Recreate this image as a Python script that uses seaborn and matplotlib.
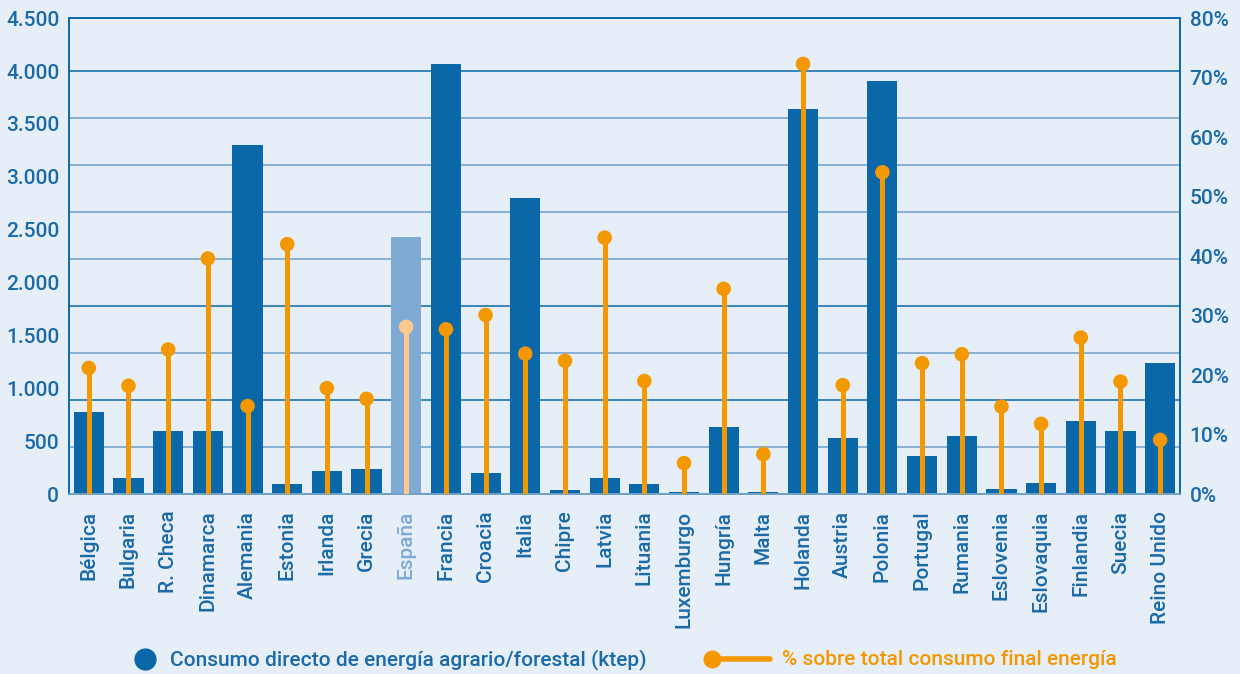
import numpy as np
import pandas as pd
import seaborn as sns
import matplotlib.pyplot as plt
from matplotlib.lines import Line2D

# --- Datos ---
paises = ["Bélgica", "Bulgaria", "R. Checa", "Dinamarca", "Alemania", "Estonia",
          "Irlanda", "Grecia", "España", "Francia", "Croacia", "Italia", "Chipre",
          "Latvia", "Lituania", "Luxemburgo", "Hungría", "Malta", "Holanda",
          "Austria", "Polonia", "Portugal", "Rumania", "Eslovenia", "Eslovaquia",
          "Finlandia", "Suecia", "Reino Unido"]
consumo_ktep = [780, 155, 600, 600, 3300, 95, 218, 236, 2430, 4065, 198, 2800, 38,
                151, 95, 18, 633, 18, 3640, 529, 3904, 359, 548, 47, 104, 690, 596, 1240]
pct_consumo = [21.2, 18.2, 24.3, 39.6, 14.8, 42.0, 17.8, 16.0, 28.1, 27.7, 30.1, 23.6,
               22.4, 43.1, 19.0, 5.2, 34.5, 6.7, 72.3, 18.3, 54.1, 22.0, 23.5, 14.7,
               11.8, 26.3, 18.9, 9.1]
destacado = "España"

ticks_ktep = list(range(0, 4501, 500))
ticks_pct = [0, 10, 20, 30, 40, 50, 60, 70, 80]
label_barras = "Consumo directo de energía agrario/forestal (ktep)"
label_pct = "% sobre total consumo final energía"

# --- Estilo ---
FONDO = "#e6eef8"
AZUL = "#0a68a8"
AZUL_TXT = "#1b6aa7"
AZUL_CLARO = "#7faad3"
NARANJA = "#f39800"
NARANJA_CLARO = "#fdc98d"

sns.set_theme(style="white")
plt.rcParams["font.family"] = ["Roboto", "DejaVu Sans"]
plt.rcParams["font.weight"] = "medium"

df = pd.DataFrame({"pais": paises, "ktep": consumo_ktep, "pct": pct_consumo})
col_barras = [AZUL_CLARO if p == destacado else AZUL for p in paises]
col_pct = [NARANJA_CLARO if p == destacado else NARANJA for p in paises]

fig = plt.figure(figsize=(12.4, 6.74), dpi=100, facecolor=FONDO)
ax = fig.add_axes([0.0556, 0.267, 0.896, 0.706])
ax.set_facecolor(FONDO)

# lineas de fondo (no coinciden con los ticks en el original)
grid_pos = np.linspace(0, 4000, 10)[1:]
for i, g in enumerate(grid_pos):
    c = AZUL if i in (1, 3, 8) else "#6d9fc9"
    ax.axhline(g, color=c, lw=1.1, zorder=0.5)

sns.barplot(data=df, x="pais", y="ktep", hue="pais", palette=col_barras,
            legend=False, width=0.76, saturation=1, linewidth=0, ax=ax, zorder=2)
ax.set_ylim(0, 4500)
ax.set_xlim(-0.5, len(paises) - 0.5)
ax.set_yticks(ticks_ktep)
ax.set_yticklabels([f"{v:,}".replace(",", ".") for v in ticks_ktep])
ax.set_xlabel("")
ax.set_ylabel("")
ax.tick_params(axis="y", length=0, pad=7, labelsize=15, labelcolor=AZUL_TXT)
ax.tick_params(axis="x", length=0, pad=12, labelsize=15, labelcolor=AZUL_TXT, rotation=90)
for lab in ax.get_xticklabels():
    if lab.get_text() == destacado:
        lab.set_color(AZUL_CLARO)

# eje derecho: porcentaje
ax2 = ax.twinx()
x = np.arange(len(paises))
ax2.vlines(x, 0, df["pct"], colors=col_pct, lw=3.6, zorder=3)
ax2.scatter(x, df["pct"], s=110, c=col_pct, zorder=4, linewidths=0)
ax2.set_ylim(0, 80)
ax2.set_yticks(ticks_pct)
ax2.set_yticklabels([f"{v}%" for v in ticks_pct])
ax2.tick_params(axis="y", length=0, pad=7, labelsize=15, labelcolor=AZUL_TXT)
ax2.grid(False)

for a in (ax, ax2):
    for s in a.spines.values():
        s.set_color(AZUL)
        s.set_linewidth(1.2)
    a.spines["bottom"].set_color("#6d9fc9")

# --- Leyenda ---
fig.add_artist(Line2D([0.117], [0.022], marker="o", markersize=15, color=AZUL,
                      transform=fig.transFigure))
fig.text(0.137, 0.022, label_barras, color=AZUL_TXT, fontsize=15, va="center")
fig.add_artist(Line2D([0.574, 0.621], [0.022, 0.022], lw=4, color=NARANJA,
                      transform=fig.transFigure))
fig.add_artist(Line2D([0.574], [0.022], marker="o", markersize=12, color=NARANJA,
                      transform=fig.transFigure))
fig.text(0.631, 0.022, label_pct, color=NARANJA, fontsize=15, va="center")

fig.savefig("out.png", dpi=100, facecolor=FONDO)
